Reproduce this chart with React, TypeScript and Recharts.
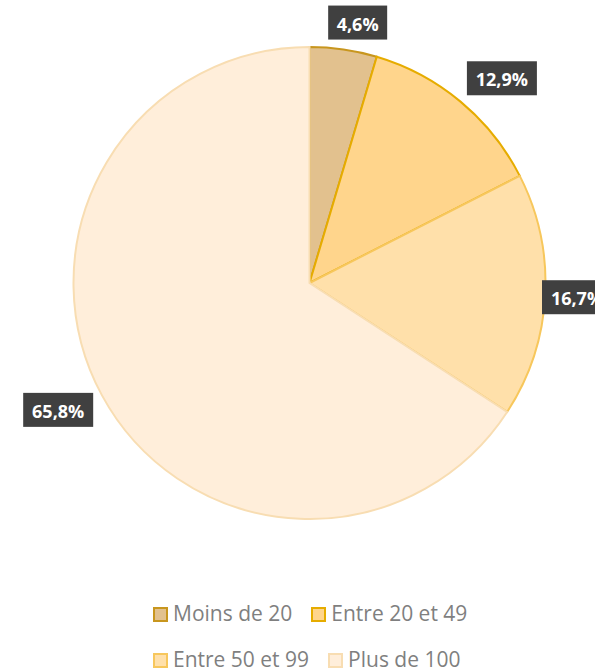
import React from "react";
import { PieChart, Pie, Cell, Legend } from "recharts";

const categories = ["Moins de 20", "Entre 20 et 49", "Entre 50 et 99", "Plus de 100"];
const shares = [4.6, 12.9, 16.7, 65.8];
const fills = ["#E2C18E", "#FFD58C", "#FFE0AA", "#FFEEDA"];
const strokes = ["#C8961E", "#E6AC00", "#F7C75C", "#F8DDB2"];

const data = categories.map((name, i) => ({ name, value: shares[i] }));

const RAD = Math.PI / 180;
const fmt = (v: number) => v.toFixed(1).replace(".", ",") + "%";
const clamp1 = (t: number) => Math.max(-1, Math.min(1, t));

const renderLabel = (props: any) => {
  const { cx, cy, midAngle, outerRadius, value } = props;
  const text = fmt(value);
  const w = text.length * 11 + 15;
  const h = 34;
  const c = Math.cos(midAngle * RAD);
  const s = Math.sin(midAngle * RAD);
  const ax = cx + (outerRadius + 10) * c;
  const ay = cy - (outerRadius + 10) * s;
  let x = ax + (w / 2) * clamp1(3 * c);
  const y = ay - (h / 2) * clamp1(1.2 * s);
  const maxRight = 612;
  if (x + w / 2 > maxRight) x = maxRight - w / 2;
  return (
    <g>
      <rect x={x - w / 2} y={y - h / 2} width={w} height={h} fill="#404040" />
      <text
        x={x}
        y={y + 1}
        textAnchor="middle"
        dominantBaseline="central"
        fill="#FFFFFF"
        fontFamily="'Open Sans', sans-serif"
        fontWeight={700}
        fontSize={18}
      >
        {text}
      </text>
    </g>
  );
};

const renderLegend = () => (
  <div
    style={{
      display: "flex",
      flexWrap: "wrap",
      width: 360,
      marginLeft: 153,
      rowGap: 20,
      columnGap: 19,
      fontFamily: "'Open Sans', sans-serif",
      fontSize: 21,
      color: "#7F7F7F",
      lineHeight: "26px",
    }}
  >
    {categories.map((name, i) => (
      <div key={name} style={{ display: "flex", alignItems: "center" }}>
        <span
          style={{
            display: "inline-block",
            width: 11,
            height: 11,
            background: fills[i],
            border: `2px solid ${strokes[i]}`,
            marginRight: 5,
            marginTop: 2,
          }}
        />
        <span>{name}</span>
      </div>
    ))}
  </div>
);

export default function App() {
  return (
    <div style={{ position: "fixed", left: 0, top: 0, width: 595, height: 668, background: "#FFFFFF", overflow: "hidden" }}>
      <PieChart width={595} height={668} margin={{ top: 0, right: 0, bottom: 0, left: 0 }}>
        <Pie
          data={data}
          dataKey="value"
          nameKey="name"
          cx={309.5}
          cy={283}
          outerRadius={236}
          startAngle={90}
          endAngle={-270}
          label={renderLabel}
          labelLine={false}
          isAnimationActive={false}
        >
          {data.map((d, i) => (
            <Cell key={d.name} fill={fills[i]} stroke={strokes[i]} strokeWidth={2} />
          ))}
        </Pie>
        <Legend
          content={renderLegend}
          wrapperStyle={{ position: "absolute", left: 0, top: 600, width: 595 }}
        />
      </PieChart>
    </div>
  );
}
